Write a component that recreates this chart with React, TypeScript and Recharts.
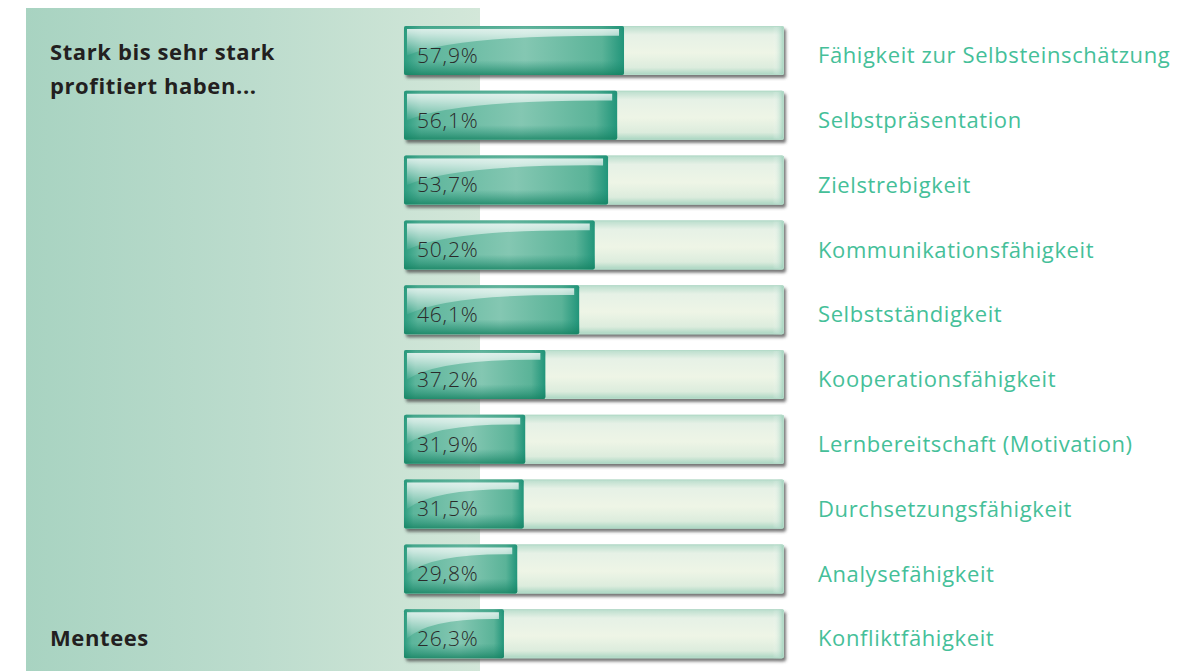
import React from "react";
import { BarChart, Bar, XAxis, YAxis, LabelList } from "recharts";

const categories = [
  "Fähigkeit zur Selbsteinschätzung",
  "Selbstpräsentation",
  "Zielstrebigkeit",
  "Kommunikationsfähigkeit",
  "Selbstständigkeit",
  "Kooperationsfähigkeit",
  "Lernbereitschaft (Motivation)",
  "Durchsetzungsfähigkeit",
  "Analysefähigkeit",
  "Konfliktfähigkeit",
];

const values = [57.9, 56.1, 53.7, 50.2, 46.1, 37.2, 31.9, 31.5, 29.8, 26.3];

const titleLines = ["Stark bis sehr stark", "profitiert haben..."];
const groupLabel = "Mentees";

const data = categories.map((name, i) => ({ name, value: values[i] }));

const FONT = "'Open Sans', 'Noto Sans', sans-serif";

function TrackShape(props: any) {
  const { x, y, width, height } = props;
  return (
    <g filter="url(#barShadow)">
      <rect x={x} y={y} width={width} height={height} rx={2} fill="url(#trackV)" />
      <rect x={x} y={y} width={width} height={height} rx={2} fill="url(#trackH)" />
      <rect x={x + 0.5} y={y + 0.5} width={width - 1} height={height - 1} rx={2} fill="none" stroke="#b5dbc9" strokeWidth={1} />
    </g>
  );
}

function FillShape(props: any) {
  const { x, y, width, height } = props;
  if (!width || width <= 0) return null;
  return (
    <g>
      <rect x={x} y={y} width={width} height={height} rx={2} fill="url(#fillH)" />
      <rect x={x} y={y} width={width} height={height} rx={2} fill="url(#fillV)" />
      <path
        d={`M${x + 3},${y + 3} L${x + width - 5},${y + 3} L${x + width - 5},${y + height * 0.2} Q${x + width * 0.25},${y + height * 0.18} ${x + 3},${y + height * 0.6} Z`}
        fill="url(#glare)"
      />
    </g>
  );
}

const fmt = (v: any) => `${Number(v).toFixed(1).replace(".", ",")}%`;

function CategoryTick(props: any) {
  const { x, y, payload } = props;
  return (
    <text
      x={x}
      y={y + 5}
      dy="0.35em"
      fill="#45bf99"
      fontSize={22}
      letterSpacing={0.6}
      fontFamily={FONT}
      textAnchor="start"
    >
      {payload.value}
    </text>
  );
}

function ValueLabel(props: any) {
  const { x, y, height, value } = props;
  return (
    <text
      x={x + 13}
      y={y + height / 2 + 5}
      dy="0.35em"
      fill="#2a2a2a"
      fontSize={21}
      letterSpacing={0.8}
      fontFamily={FONT}
      fontWeight={300}
    >
      {fmt(value)}
    </text>
  );
}

export default function App() {
  return (
    <div style={{ position: "absolute", left: 0, top: 0, width: 1198, height: 671, background: "#ffffff", overflow: "hidden" }}>
      <svg width={0} height={0} style={{ position: "absolute" }}>
        <defs>
          <linearGradient id="trackV" x1="0" y1="0" x2="0" y2="1">
            <stop offset="0%" stopColor="#b9ddcc" />
            <stop offset="18%" stopColor="#e6f1e6" />
            <stop offset="55%" stopColor="#eef5e6" />
            <stop offset="85%" stopColor="#dcecdd" />
            <stop offset="100%" stopColor="#a8d5c1" />
          </linearGradient>
          <linearGradient id="trackH" x1="0" y1="0" x2="1" y2="0">
            <stop offset="0%" stopColor="#a8d5c1" stopOpacity={0.6} />
            <stop offset="4%" stopColor="#ffffff" stopOpacity={0} />
            <stop offset="97%" stopColor="#ffffff" stopOpacity={0} />
            <stop offset="100%" stopColor="#8fcab2" stopOpacity={0.8} />
          </linearGradient>
          <linearGradient id="fillH" x1="0" y1="0" x2="1" y2="0">
            <stop offset="0%" stopColor="#2a9b7e" />
            <stop offset="8%" stopColor="#5cb59b" />
            <stop offset="55%" stopColor="#84c7b2" />
            <stop offset="90%" stopColor="#5ab398" />
            <stop offset="100%" stopColor="#21957a" />
          </linearGradient>
          <linearGradient id="fillV" x1="0" y1="0" x2="0" y2="1">
            <stop offset="0%" stopColor="#1f8f74" stopOpacity={0.45} />
            <stop offset="15%" stopColor="#1f8f74" stopOpacity={0} />
            <stop offset="70%" stopColor="#1f8f74" stopOpacity={0} />
            <stop offset="100%" stopColor="#13805f" stopOpacity={0.8} />
          </linearGradient>
          <linearGradient id="glare" x1="0" y1="0" x2="0" y2="1">
            <stop offset="0%" stopColor="#ffffff" stopOpacity={0.8} />
            <stop offset="100%" stopColor="#ffffff" stopOpacity={0.05} />
          </linearGradient>
          <filter id="barShadow" x="-5%" y="-20%" width="115%" height="150%">
            <feDropShadow dx={2} dy={3} stdDeviation={1.6} floodColor="#4a4a4a" floodOpacity={0.75} />
          </filter>
        </defs>
      </svg>

      <div
        style={{
          position: "absolute",
          left: 26,
          top: 8,
          width: 454,
          height: 663,
          background: "linear-gradient(to right, #a8d3c1 0%, #bcdccd 50%, #d3e7d9 100%)",
        }}
      />

      <div
        style={{
          position: "absolute",
          left: 50,
          top: 34,
          fontFamily: FONT,
          fontWeight: 700,
          fontSize: 22,
          letterSpacing: 0.6,
          lineHeight: "34px",
          color: "#231f20",
        }}
      >
        {titleLines.map((l) => (
          <div key={l}>{l}</div>
        ))}
      </div>
      <div
        style={{
          position: "absolute",
          left: 50,
          top: 622,
          fontFamily: FONT,
          fontWeight: 700,
          fontSize: 22,
          letterSpacing: 0.6,
          color: "#231f20",
        }}
      >
        {groupLabel}
      </div>

      <div style={{ position: "absolute", left: 0, top: 0 }}>
        <BarChart
          width={1198}
          height={671}
          data={data}
          layout="vertical"
          margin={{ top: 18, right: 14, bottom: 5, left: 404 }}
          barCategoryGap={8}
        >
          <XAxis type="number" domain={[0, 100]} hide />
          <YAxis
            type="category"
            dataKey="name"
            orientation="right"
            width={400}
            axisLine={false}
            tickLine={false}
            tickSize={0}
            tickMargin={34}
            tick={<CategoryTick />}
            interval={0}
          />
          <Bar
            dataKey="value"
            isAnimationActive={false}
            background={(p: any) => <TrackShape {...p} />}
            shape={(p: any) => <FillShape {...p} />}
          >
            <LabelList dataKey="value" content={<ValueLabel />} />
          </Bar>
        </BarChart>
      </div>
    </div>
  );
}
